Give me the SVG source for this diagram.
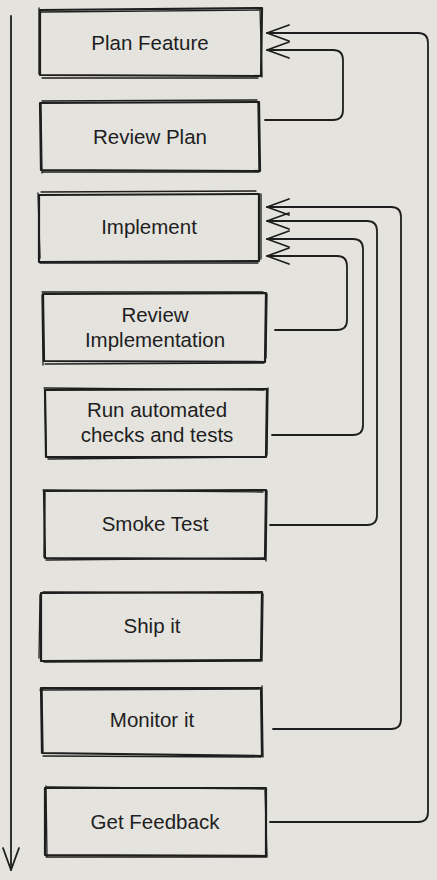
<svg xmlns="http://www.w3.org/2000/svg" width="437" height="880" viewBox="0 0 437 880">
<style>
.bg{fill:#e4e3de}
.box{fill:none;stroke:#1e1e1e;stroke-width:2.2;stroke-linejoin:round}
.box2{fill:none;stroke:#1e1e1e;stroke-width:1.3;stroke-linecap:round}
.lbl{font-family:"Liberation Sans",Arial,sans-serif;font-size:20.5px;fill:#1e1e1e;text-anchor:middle}
.con{fill:none;stroke:#1e1e1e;stroke-width:1.8;stroke-linecap:round;stroke-linejoin:round}
</style>
<defs>
<marker id="ah" markerUnits="userSpaceOnUse" markerWidth="30" markerHeight="24" refX="0" refY="12" orient="auto" overflow="visible">
<path d="M-22,4 L0,12 L-22,20" fill="none" stroke="#1e1e1e" stroke-width="1.8" stroke-linecap="round" stroke-linejoin="round"/>
</marker>
</defs>
<rect class="bg" x="0" y="0" width="437" height="880"/>
<g id="connectors">
<path class="con" d="M11,16 V870" marker-end="url(#ah)"/>
<path class="con" d="M265,120 H333 Q343,120 343,110 V60 Q343,50 333,50 H267" marker-end="url(#ah)"/>
<path class="con" d="M270,822 H418 Q428,822 428,812 V43 Q428,33 418,33 H267" marker-end="url(#ah)"/>
<path class="con" d="M273,729 H391 Q401,729 401,719 V217 Q401,207 391,207 H267" marker-end="url(#ah)"/>
<path class="con" d="M270,525 H367 Q377,525 377,515 V231 Q377,221 367,221 H267" marker-end="url(#ah)"/>
<path class="con" d="M272,435 H353 Q363,435 363,425 V249 Q363,239 353,239 H267" marker-end="url(#ah)"/>
<path class="con" d="M275,330 H337 Q347,330 347,320 V266 Q347,256 337,256 H267" marker-end="url(#ah)"/>
</g>
<g id="plan-feature">
<path class="box" d="M40,10 L262,8 L261,76 L40,75 Z"/>
<path class="box2" d="M41,12 L259,10 M260,9 L262,77 M42,78 L258,78 M39,8 L39,74"/>
<text class="lbl" x="150" y="50">Plan Feature</text>
</g>
<g id="review-plan">
<path class="box" d="M40,103 L259,102 L260,171 L41,170 Z"/>
<path class="box2" d="M42,101 L257,100 M258,103 L259,170 M43,172 L259,172 M41,104 L42,173"/>
<text class="lbl" x="150" y="144">Review Plan</text>
</g>
<g id="implement">
<path class="box" d="M39,195 L259,194 L259,261 L39,262 Z"/>
<path class="box2" d="M41,192 L256,191 M261,194 L261,259 M40,263 L258,263 M38,193 L40,258"/>
<text class="lbl" x="149" y="234">Implement</text>
</g>
<g id="review-implementation">
<path class="box" d="M43,294 L266,293 L265,362 L44,361 Z"/>
<path class="box2" d="M42,292 L263,292 M267,294 L266,358 M45,364 L264,363 M42,295 L43,365"/>
<text class="lbl" x="155" y="322">Review</text>
<text class="lbl" x="155" y="347">Implementation</text>
</g>
<g id="run-automated">
<path class="box" d="M45,390 L267,389 L266,457 L46,457 Z"/>
<path class="box2" d="M44,388 L264,390 M268,388 L267,455 M48,459 L265,457 M45,389 L46,455"/>
<text class="lbl" x="157" y="417">Run automated</text>
<text class="lbl" x="157" y="442">checks and tests</text>
</g>
<g id="smoke-test">
<path class="box" d="M44,491 L266,490 L265,559 L45,558 Z"/>
<path class="box2" d="M43,490 L263,492 M267,491 L266,561 M46,560 L264,558 M45,493 L44,557"/>
<text class="lbl" x="155" y="531">Smoke Test</text>
</g>
<g id="ship-it">
<path class="box" d="M41,593 L262,592 L261,660 L41,661 Z"/>
<path class="box2" d="M43,592 L260,593 M263,594 L262,661 M44,662 L261,661 M40,595 L39,658"/>
<text class="lbl" x="152" y="633">Ship it</text>
</g>
<g id="monitor-it">
<path class="box" d="M41,688 L261,688 L262,756 L42,753 Z"/>
<path class="box2" d="M40,690 L259,689 M262,686 L263,757 M43,756 L261,757 M42,689 L43,753"/>
<text class="lbl" x="152" y="727">Monitor it</text>
</g>
<g id="get-feedback">
<path class="box" d="M45,788 L266,788 L266,856 L45,855 Z"/>
<path class="box2" d="M47,787 L264,789 M265,790 L267,857 M46,857 L266,857 M46,786 L47,856"/>
<text class="lbl" x="155" y="829">Get Feedback</text>
</g>
</svg>
